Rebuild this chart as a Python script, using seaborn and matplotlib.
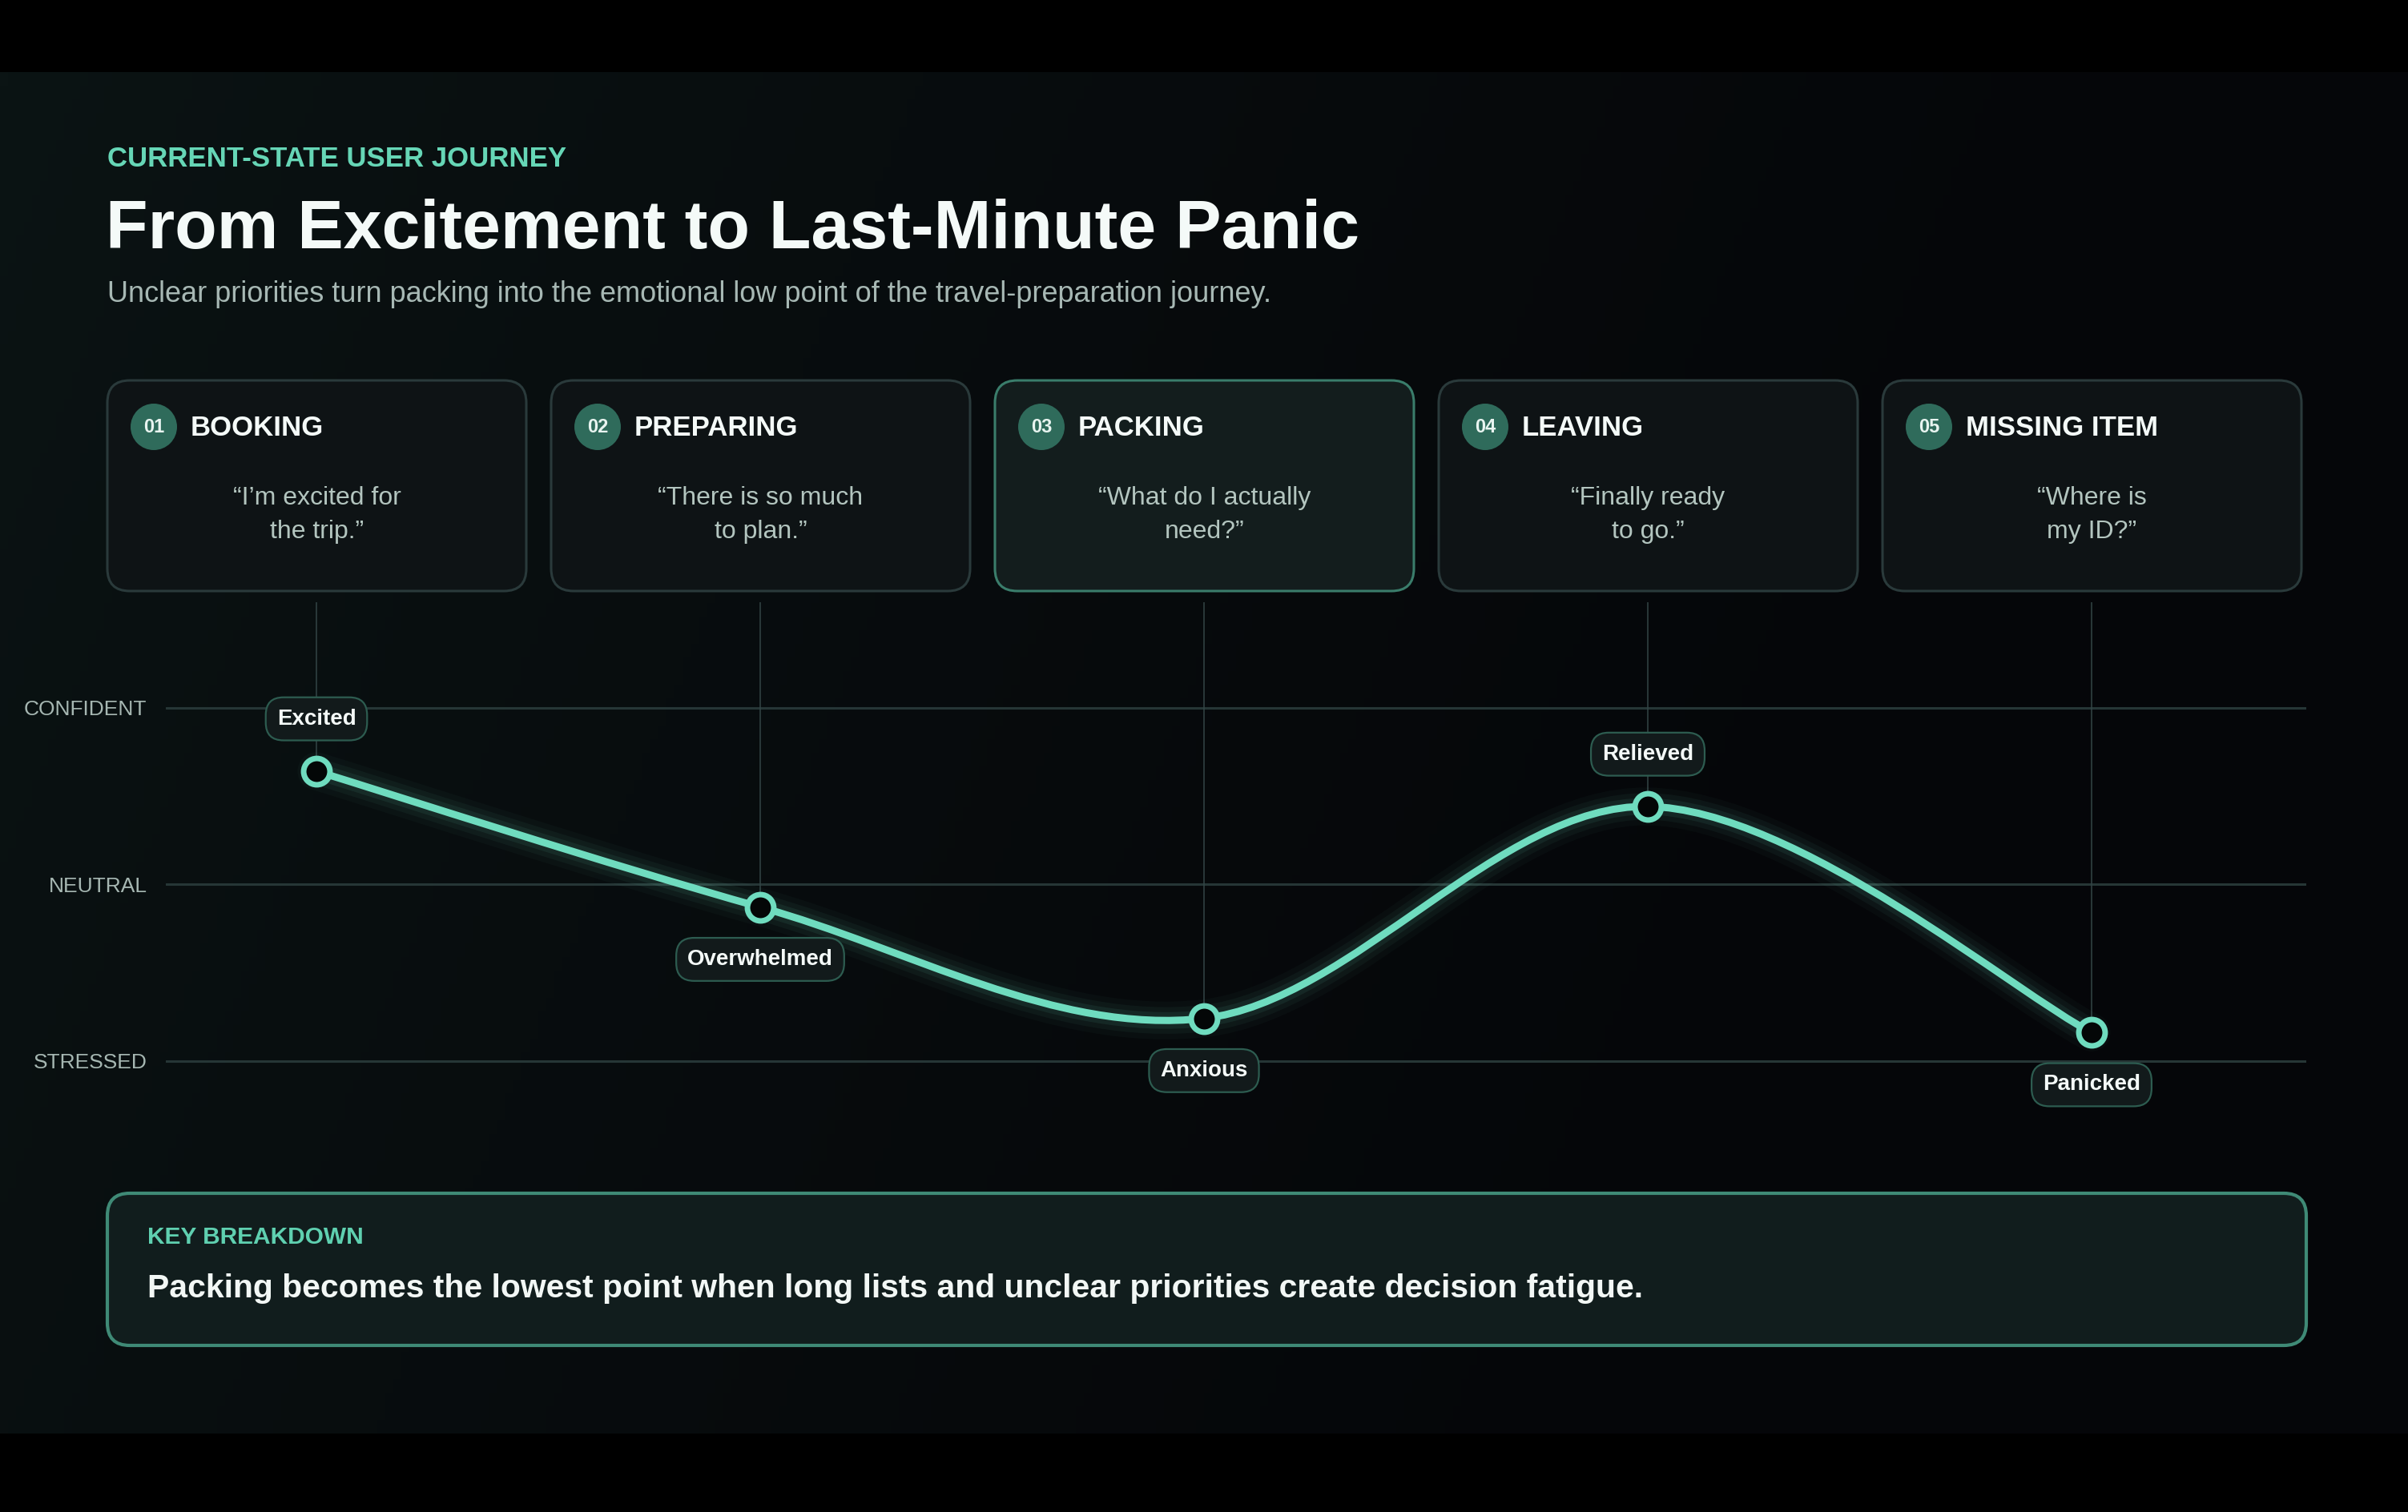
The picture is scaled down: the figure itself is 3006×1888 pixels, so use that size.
import numpy as np
import matplotlib.pyplot as plt
import seaborn as sns
from matplotlib.patches import FancyBboxPatch, Circle, PathPatch
from matplotlib.path import Path

# ---- data ----
stage_nums = ["01", "02", "03", "04", "05"]
stage_names = ["BOOKING", "PREPARING", "PACKING", "LEAVING", "MISSING ITEM"]
stage_quotes = ["\u201cI\u2019m excited for\nthe trip.\u201d",
                "\u201cThere is so much\nto plan.\u201d",
                "\u201cWhat do I actually\nneed?\u201d",
                "\u201cFinally ready\nto go.\u201d",
                "\u201cWhere is\nmy ID?\u201d"]
emotions = ["Excited", "Overwhelmed", "Anxious", "Relieved", "Panicked"]
emotion_scores = [0.64, -0.13, -0.76, 0.44, -0.84]
label_above = [True, False, False, True, False]
level_ticks = [-1, 0, 1]
level_labels = ["STRESSED", "NEUTRAL", "CONFIDENT"]
highlight_stage = 2

# ---- style ----
sns.set_style("dark", {"axes.facecolor": "none", "figure.facecolor": "black"})
plt.rcParams['font.family'] = ['Liberation Sans', 'DejaVu Sans']

MINT = '#6fdcbf'
W, H = 3006, 1888
fig = plt.figure(figsize=(W / 100, H / 100), dpi=100)
fig.patch.set_facecolor('black')

# background axes in pixel coords
bg = fig.add_axes([0, 0, 1, 1])
bg.set_xlim(0, W)
bg.set_ylim(H, 0)
bg.axis('off')
bg.set_facecolor('black')

gx = np.linspace(0, 1, 300)
gy = np.linspace(0, 1, 100)
GX, GY = np.meshgrid(gx, gy)
t = np.clip(GX * 1.1 + 0.25 * GY, 0, 1) ** 0.8
left = np.array([11, 20, 20]) / 255
right = np.array([5, 6, 9]) / 255
grad = left[None, None, :] * (1 - t[..., None]) + right[None, None, :] * t[..., None]
bg.imshow(grad, extent=[0, W, 1790, 90], aspect='auto', zorder=0)

# header
bg.text(134, 208, "CURRENT-STATE USER JOURNEY", fontsize=25, fontweight='bold',
        color='#66d6b6', va='baseline', ha='left')
bg.text(132, 310, "From Excitement to Last-Minute Panic", fontsize=62, fontweight='bold',
        color='#f4faf8', va='baseline', ha='left')
bg.text(134, 377, "Unclear priorities turn packing into the emotional low point of the travel-preparation journey.",
        fontsize=26, color='#a7b8b4', va='baseline', ha='left')

# stage cards
card_x0, card_w, card_step, card_top, card_bot = 134, 523, 554, 475, 738
for i, (num, name, quote) in enumerate(zip(stage_nums, stage_names, stage_quotes)):
    x0 = card_x0 + i * card_step
    hl = i == highlight_stage
    bg.add_patch(FancyBboxPatch((x0, card_top), card_w, card_bot - card_top,
                                boxstyle='round,pad=0,rounding_size=28',
                                fc='#131d1d' if hl else '#0e1315',
                                ec='#3a7d6b' if hl else '#2a3a3b', lw=2.2, zorder=2))
    bg.add_patch(Circle((x0 + 58, 533), 29, fc='#2f6b5b', ec='none', zorder=3))
    bg.text(x0 + 58, 534, num, fontsize=17, fontweight='bold', color='#e8f4f0',
            ha='center', va='center', zorder=4)
    bg.text(x0 + 104, 534, name, fontsize=25, fontweight='bold', color='#f4faf8',
            ha='left', va='center', zorder=4)
    bg.text(x0 + card_w / 2, 643, quote, fontsize=23, color='#b3c5bf', ha='center',
            va='center', multialignment='center', linespacing=1.5, zorder=4)

# key breakdown box
bg.add_patch(FancyBboxPatch((134, 1490), 2745, 190, boxstyle='round,pad=0,rounding_size=28',
                            fc='#111d1d', ec='#3f8a76', lw=3, zorder=2))
bg.text(184, 1553, "KEY BREAKDOWN", fontsize=21.5, fontweight='bold', color='#5fd0b0',
        va='baseline', ha='left', zorder=3)
bg.text(184, 1620, "Packing becomes the lowest point when long lists and unclear priorities create decision fatigue.",
        fontsize=29.4, fontweight='bold', color='#f2f7f5', va='baseline', ha='left', zorder=3)

# ---- chart axes ----
px_first, px_step, px_zero, px_unit = 395, 554, 1104, 220.5
ax_l, ax_r, ax_t, ax_b = 207, 2879, 740, 1435
ax = fig.add_axes([ax_l / W, 1 - ax_b / H, (ax_r - ax_l) / W, (ax_b - ax_t) / H])
ax.set_xlim((ax_l - px_first) / px_step, (ax_r - px_first) / px_step)
ax.set_ylim((px_zero - ax_b) / px_unit, (px_zero - ax_t) / px_unit)
ax.patch.set_alpha(0)
for s in ax.spines.values():
    s.set_visible(False)
ax.set_xticks([])
ax.set_yticks(level_ticks)
ax.set_yticklabels(level_labels)
ax.tick_params(axis='y', length=0, pad=17, labelsize=19, labelcolor='#a6b7b2')
ax.grid(False)
for lv in level_ticks:
    ax.axhline(lv, color='#263636', lw=2.2, zorder=1)

xs = np.arange(len(emotion_scores))
ys = np.array(emotion_scores)
connector_top = (px_zero - 752) / px_unit
ax.vlines(xs, ys, connector_top, color='#334546', lw=1.1, zorder=1)

# smooth catmull-rom curve as bezier path
pts = np.column_stack([xs, ys])
ext = np.vstack([pts[0], pts, pts[-1]])
verts = [pts[0]]
codes = [Path.MOVETO]
for i in range(len(pts) - 1):
    p0, p1, p2, p3 = ext[i], ext[i + 1], ext[i + 2], ext[i + 3]
    verts += [p1 + (p2 - p0) / 6, p2 - (p3 - p1) / 6, p2]
    codes += [Path.CURVE4] * 3
curve = Path(verts, codes)
for lw, a in [(34, 0.03), (24, 0.05), (15, 0.08)]:
    ax.add_patch(PathPatch(curve, fc='none', ec=MINT, lw=lw, alpha=a, capstyle='round', zorder=2))
ax.add_patch(PathPatch(curve, fc='none', ec=MINT, lw=6.5, capstyle='round', zorder=3))

sns.scatterplot(x=xs, y=ys, s=560, color='#040707', edgecolor=MINT, linewidth=5,
                ax=ax, zorder=5, legend=False, clip_on=False)

for i, (emo, y, up) in enumerate(zip(emotions, ys, label_above)):
    ax.annotate(emo, xy=(i, y), xytext=(0, 47 if up else -47), textcoords='offset points',
                ha='center', va='center', fontsize=20, fontweight='bold', color='#f4faf8',
                zorder=6, annotation_clip=False,
                bbox=dict(boxstyle='round,pad=0.5,rounding_size=0.8', fc='#121a1b',
                          ec='#2d5c50', lw=1.6))

fig.savefig('out.png', dpi=100, facecolor='black')
